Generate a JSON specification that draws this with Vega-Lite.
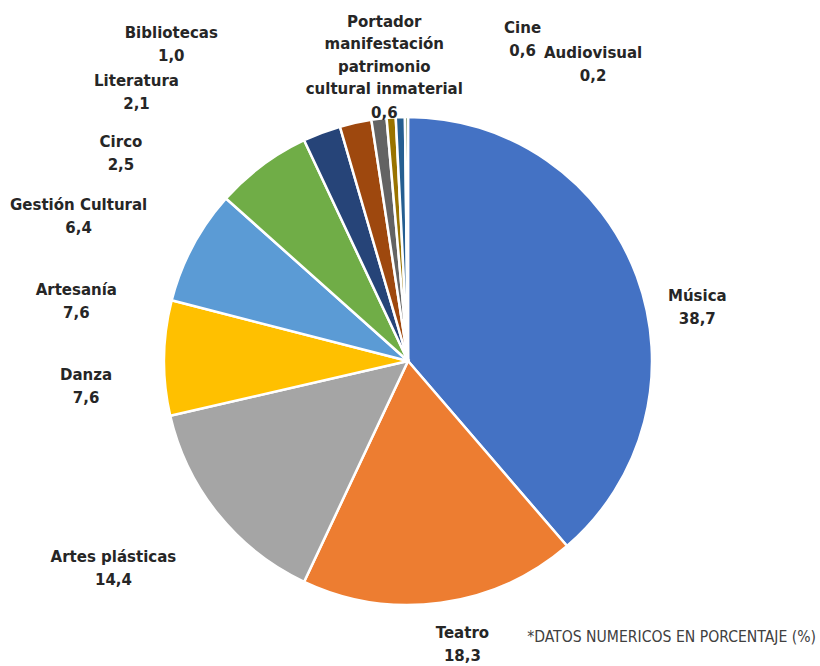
{
  "$schema": "https://vega.github.io/schema/vega-lite/v6.json",
  "width": 816,
  "height": 610,
  "autosize": {"type": "none"},
  "padding": {"left": 0, "top": 56, "right": 4, "bottom": 0},
  "background": "white",
  "config": {
    "view": {"stroke": null},
    "locale": {"number": {"decimal": ",", "thousands": ".", "grouping": [3], "currency": ["", " €"]}}
  },
  "title": {
    "text": "*DATOS NUMERICOS EN PORCENTAJE (%)",
    "orient": "bottom",
    "anchor": "end",
    "frame": "group",
    "offset": -36,
    "font": "DejaVu Sans Condensed",
    "fontSize": 15.6,
    "fontWeight": "normal",
    "color": "#404040"
  },
  "data": {
    "values": [
      {"orden": 1, "categoria": "Música", "etiqueta": "Música", "porcentaje": 38.7},
      {"orden": 2, "categoria": "Teatro", "etiqueta": "Teatro", "porcentaje": 18.3},
      {"orden": 3, "categoria": "Artes plásticas", "etiqueta": "Artes plásticas", "porcentaje": 14.4},
      {"orden": 4, "categoria": "Danza", "etiqueta": "Danza", "porcentaje": 7.6},
      {"orden": 5, "categoria": "Artesanía", "etiqueta": "Artesanía", "porcentaje": 7.6},
      {"orden": 6, "categoria": "Gestión Cultural", "etiqueta": "Gestión Cultural", "porcentaje": 6.4},
      {"orden": 7, "categoria": "Circo", "etiqueta": "Circo", "porcentaje": 2.5},
      {"orden": 8, "categoria": "Literatura", "etiqueta": "Literatura", "porcentaje": 2.1},
      {"orden": 9, "categoria": "Bibliotecas", "etiqueta": "Bibliotecas", "porcentaje": 1.0},
      {"orden": 10, "categoria": "Portador manifestación patrimonio cultural inmaterial", "etiqueta": "Portador\nmanifestación\npatrimonio\ncultural inmaterial", "porcentaje": 0.6},
      {"orden": 11, "categoria": "Cine", "etiqueta": "Cine", "porcentaje": 0.6},
      {"orden": 12, "categoria": "Audiovisual", "etiqueta": "Audiovisual", "porcentaje": 0.2}
    ]
  },
  "encoding": {
    "theta": {"field": "porcentaje", "type": "quantitative", "stack": true},
    "order": {"field": "orden", "type": "quantitative"}
  },
  "layer": [
    {
      "mark": {"type": "arc", "outerRadius": 244, "stroke": "white", "strokeWidth": 2.5},
      "encoding": {
        "color": {
          "field": "categoria",
          "type": "nominal",
          "legend": null,
          "scale": {
            "domain": ["Música", "Teatro", "Artes plásticas", "Danza", "Artesanía", "Gestión Cultural", "Circo", "Literatura", "Bibliotecas", "Portador manifestación patrimonio cultural inmaterial", "Cine", "Audiovisual"],
            "range": ["#4472C4", "#ED7D31", "#A5A5A5", "#FFC000", "#5B9BD5", "#70AD47", "#264478", "#9E480E", "#636363", "#997300", "#255E91", "#43682B"]
          }
        }
      }
    },
    {
      "mark": {
        "type": "text",
        "radius": 300,
        "font": "DejaVu Sans",
        "fontSize": 15,
        "fontWeight": "bold",
        "fill": "#262626",
        "align": "center",
        "baseline": "bottom",
        "lineBreak": "\n",
        "lineHeight": 22.5,
        "dx": {"expr": "{'Música':8,'Teatro':14,'Artes plásticas':-61,'Danza':-22,'Artesanía':-67,'Gestión Cultural':-150,'Circo':-181,'Literatura':-207,'Bibliotecas':-201,'Portador manifestación patrimonio cultural inmaterial':-3,'Cine':124,'Audiovisual':187}[datum.categoria]"},
        "dy": {"expr": "{'Música':47,'Teatro':-17,'Artes plásticas':16,'Danza':26,'Artesanía':78,'Gestión Cultural':92,'Circo':70,'Literatura':21,'Bibliotecas':-22,'Portador manifestación patrimonio cultural inmaterial':-32,'Cine':-25,'Audiovisual':0}[datum.categoria]"}
      },
      "encoding": {
        "detail": {"field": "categoria", "type": "nominal"},
        "text": {"field": "etiqueta", "type": "nominal"}
      }
    },
    {
      "mark": {
        "type": "text",
        "radius": 300,
        "font": "DejaVu Sans",
        "fontSize": 15,
        "fontWeight": "bold",
        "fill": "#262626",
        "align": "center",
        "baseline": "top",
        "dx": {"expr": "{'Música':8,'Teatro':14,'Artes plásticas':-61,'Danza':-22,'Artesanía':-67,'Gestión Cultural':-150,'Circo':-181,'Literatura':-207,'Bibliotecas':-201,'Portador manifestación patrimonio cultural inmaterial':-3,'Cine':124,'Audiovisual':187}[datum.categoria]"},
        "dy": {"expr": "8 + {'Música':47,'Teatro':-17,'Artes plásticas':16,'Danza':26,'Artesanía':78,'Gestión Cultural':92,'Circo':70,'Literatura':21,'Bibliotecas':-22,'Portador manifestación patrimonio cultural inmaterial':36,'Cine':-25,'Audiovisual':0}[datum.categoria]"}
      },
      "encoding": {
        "detail": {"field": "categoria", "type": "nominal"},
        "text": {"field": "porcentaje", "type": "quantitative", "format": ".1f"}
      }
    }
  ]
}
